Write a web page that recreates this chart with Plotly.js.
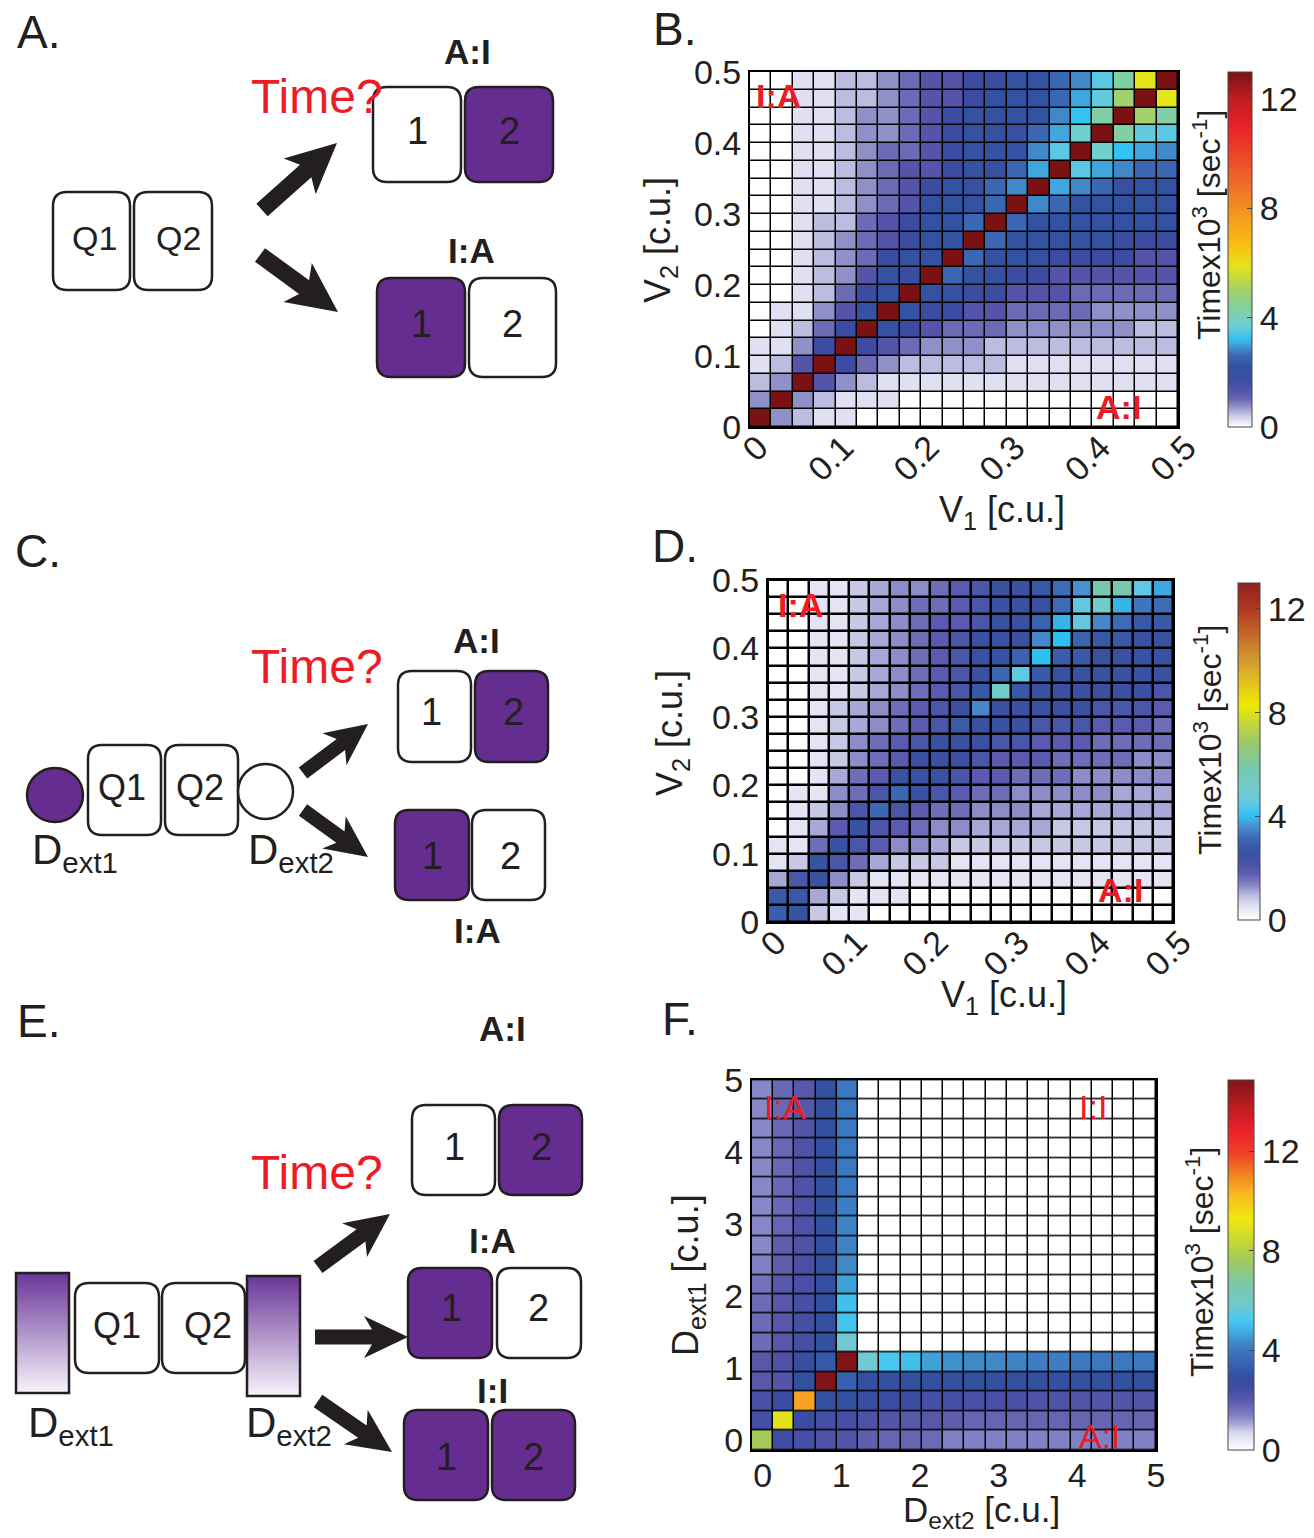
<!DOCTYPE html>
<html><head><meta charset="utf-8">
<script src="https://cdn.plot.ly/plotly-3.0.1.min.js"></script>
<style>body{margin:0;background:#fff}</style>
</head><body><div id="chart" style="width:1314px;height:1538px"></div>
<script>
// ---------------- DATA ----------------
// Panel B: time to reach final state, V1 (columns, 0..0.5) x V2 (rows, listed top row first)
const bTicks = [0, 0.1, 0.2, 0.3, 0.4, 0.5];
const bRowsTopDown = [
 [0,0,.25,.25,.5,.5,.75,1.0,1.3,1.3,1.7,1.7,2.2,2.2,2.6,2.85,3.5,4.3,5.9,13],
 [0,0,.25,.25,.5,.5,.75,1.0,1.3,1.3,1.7,2.2,2.2,2.2,2.6,3.05,3.6,5.0,13,5.9],
 [0,0,.25,.25,.5,.75,.75,1.0,1.3,1.7,2.2,2.2,2.2,2.2,2.85,3.25,4.3,13,5.0,4.3],
 [0,0,.25,.25,.5,.75,.75,1.0,1.3,1.7,2.2,2.2,2.0,2.6,3.05,3.8,13,4.3,3.6,3.5],
 [0,0,.25,.25,.5,.75,1.0,1.0,1.3,1.7,2.2,2.2,2.2,2.85,3.5,13,3.8,3.25,3.05,2.85],
 [0,0,.25,.25,.5,.75,1.0,1.3,1.3,1.7,2.2,2.0,2.6,3.05,13,3.5,3.05,2.85,2.6,2.6],
 [0,0,.25,.25,.5,.75,1.0,1.3,1.7,2.2,2.0,2.6,2.85,13,3.05,2.85,2.6,2.0,2.2,2.2],
 [0,0,.25,.25,.5,.75,1.0,1.3,2.2,2.2,2.2,2.6,13,2.85,2.6,2.2,2.2,2.2,2.2,2.2],
 [0,0,.25,.5,.5,1.0,1.3,1.7,2.2,2.2,2.6,13,2.6,2.2,2.2,2.2,2.2,2.2,2.2,2.2],
 [0,0,.25,.5,.75,1.0,1.3,1.7,2.2,2.2,13,2.6,2.2,2.2,2.2,2.2,2.2,1.7,1.7,1.7],
 [0,0,.25,.5,.75,1.0,1.7,2.2,2.2,13,2.6,2.2,2.2,2.2,1.7,1.7,1.7,1.7,1.3,1.3],
 [0,0,.25,.5,.75,1.3,2.2,1.7,13,2.6,2.2,2.2,1.7,1.7,1.3,1.3,1.3,1.3,1.3,1.3],
 [0,0,.25,.5,1.0,1.7,2.2,13,2.2,2.2,1.7,1.7,1.3,1.3,1.3,1.0,1.0,1.0,1.0,1.0],
 [0,.25,.25,.75,1.3,2.2,13,2.2,1.7,1.7,1.3,1.3,1.0,1.0,1.0,1.0,.75,.75,.75,.75],
 [0,.25,.5,1.0,1.7,13,2.2,1.7,1.3,1.0,1.0,1.0,.75,.75,.75,.75,.75,.75,.5,.5],
 [.25,.25,.75,1.7,13,1.7,1.3,1.0,.75,.75,.75,.5,.5,.5,.5,.5,.5,.5,.5,.5],
 [.25,.5,1.3,13,1.7,1.0,.75,.5,.5,.5,.5,.5,.25,.25,.25,.25,.25,.25,.25,.25],
 [.5,.75,13,1.3,.75,.5,.25,.25,.25,.25,.25,.25,.25,.25,.25,.25,.25,.25,.25,.25],
 [.75,13,.75,.5,.25,.25,.25,0,0,0,0,0,0,0,0,0,0,0,0,0],
 [13,.75,.5,.25,.25,0,0,0,0,0,0,0,0,0,0,0,0,0,0,0]
];
// Panel D: same axes, with external domains
const dRowsTopDown = [
 [0,0,.5,.5,.85,1.1,1.3,1.3,1.6,1.85,2.1,2.5,2.5,2.8,3.2,3.6,5.8,5.8,4.5,3.8],
 [0,0,.5,.5,.85,1.1,1.3,1.6,1.6,1.85,2.1,2.5,2.5,2.5,3.2,4.6,5.0,3.9,3.3,3.2],
 [0,0,.5,.5,.85,1.1,1.3,1.6,1.85,1.85,2.1,2.5,2.5,3.0,3.9,4.6,3.5,3.2,2.8,2.8],
 [0,0,.5,.5,.85,1.1,1.3,1.6,1.85,2.1,2.5,2.5,2.5,3.5,4.0,3.0,2.8,2.8,2.5,2.5],
 [0,0,.5,.5,.85,1.1,1.3,1.6,1.85,2.1,2.5,2.5,3.0,4.0,2.9,2.8,2.5,2.5,2.5,2.5],
 [0,0,.5,.5,.85,1.1,1.3,1.6,1.85,2.1,2.5,3.1,4.5,2.8,2.5,2.5,2.5,2.5,2.5,2.5],
 [0,0,.5,.5,.85,1.1,1.3,1.6,1.85,2.1,2.8,5.0,2.8,2.5,2.5,2.5,2.5,2.5,2.5,2.1],
 [0,0,.5,.85,1.1,1.3,1.6,1.85,2.1,2.5,3.5,2.5,2.5,2.5,2.5,2.5,2.1,2.1,2.1,1.85],
 [0,0,.5,.85,1.1,1.3,1.6,1.85,2.1,2.9,2.5,2.5,2.5,2.1,2.1,2.1,1.85,1.85,1.85,1.6],
 [0,0,.5,.85,1.3,1.6,1.85,2.1,2.5,2.5,2.5,2.1,2.1,1.85,1.85,1.85,1.6,1.6,1.6,1.6],
 [0,0,.5,.85,1.3,1.6,1.85,2.5,2.5,2.5,2.1,1.85,1.85,1.85,1.6,1.6,1.6,1.6,1.3,1.3],
 [0,0,.5,1.1,1.6,1.85,2.5,2.5,2.5,2.1,1.85,1.85,1.6,1.6,1.6,1.3,1.3,1.3,1.3,1.3],
 [0,.5,.5,1.3,1.6,2.1,3.1,2.5,2.1,1.85,1.6,1.6,1.3,1.3,1.3,1.3,1.3,1.1,1.1,1.1],
 [0,.5,.85,1.3,2.1,3.1,2.1,1.85,1.6,1.6,1.3,1.3,1.3,1.1,1.1,1.1,1.1,1.1,1.1,1.1],
 [0,.5,1.1,1.85,2.6,2.1,1.85,1.6,1.3,1.3,1.1,1.1,1.1,1.1,.85,.85,.85,.85,.85,.85],
 [.5,.5,1.6,2.6,2.1,1.85,1.3,1.3,1.1,.85,.85,.85,.85,.85,.85,.85,.85,.85,.85,.85],
 [.5,.85,2.6,2.1,1.6,1.1,.85,.85,.85,.5,.5,.5,.5,.5,.5,.5,.5,.5,.5,.5],
 [1.1,2.1,2.6,1.3,.85,.5,.5,.5,.5,.5,.5,.5,.5,.5,.5,.5,.5,.5,.5,.5],
 [2.8,2.8,1.1,.85,.5,.5,.5,0,0,0,0,0,0,0,0,0,0,0,0,0],
 [2.9,2.6,.85,.5,.5,0,0,0,0,0,0,0,0,0,0,0,0,0,0,0]
];
// Panel F: Dext2 (columns) x Dext1 (rows, listed top row first)
const fTicks = [0, 1, 2, 3, 4, 5];
const fRowsTopDown = [
 [1.3,1.75,2.0,3.0,4.0,0,0,0,0,0,0,0,0,0,0,0,0,0,0],
 [1.3,1.75,2.0,3.0,4.0,0,0,0,0,0,0,0,0,0,0,0,0,0,0],
 [1.3,1.75,2.1,3.0,4.0,0,0,0,0,0,0,0,0,0,0,0,0,0,0],
 [1.3,1.75,2.2,3.0,4.0,0,0,0,0,0,0,0,0,0,0,0,0,0,0],
 [1.3,1.75,2.2,3.0,4.0,0,0,0,0,0,0,0,0,0,0,0,0,0,0],
 [1.3,1.75,2.2,3.0,4.0,0,0,0,0,0,0,0,0,0,0,0,0,0,0],
 [1.3,1.75,2.2,3.0,4.1,0,0,0,0,0,0,0,0,0,0,0,0,0,0],
 [1.3,1.8,2.2,3.0,4.2,0,0,0,0,0,0,0,0,0,0,0,0,0,0],
 [1.3,1.9,2.2,3.0,4.2,0,0,0,0,0,0,0,0,0,0,0,0,0,0],
 [1.4,1.9,2.3,3.0,4.3,0,0,0,0,0,0,0,0,0,0,0,0,0,0],
 [1.6,2.0,2.3,3.0,4.6,0,0,0,0,0,0,0,0,0,0,0,0,0,0],
 [1.7,2.0,2.4,3.0,5.0,0,0,0,0,0,0,0,0,0,0,0,0,0,0],
 [1.7,2.0,2.4,3.0,5.1,0,0,0,0,0,0,0,0,0,0,0,0,0,0],
 [1.7,2.0,2.4,3.0,5.8,0,0,0,0,0,0,0,0,0,0,0,0,0,0],
 [2.0,2.2,2.7,3.2,14.85,5.8,5.2,5.0,4.6,4.4,4.3,4.3,4.2,4.1,4.1,4.0,4.0,4.0,4.0],
 [2.0,2.1,3.0,14.85,3.4,3.0,3.0,3.0,3.0,3.0,3.0,3.0,3.0,3.0,3.0,3.0,3.0,3.0,3.0],
 [2.3,2.6,10.6,3.0,3.0,2.8,2.7,2.6,2.4,2.4,2.3,2.3,2.3,2.2,2.2,2.1,2.1,2.1,2.1],
 [2.4,9.0,2.7,2.4,2.4,2.2,2.1,2.0,2.0,1.9,1.8,1.8,1.8,1.8,1.8,1.8,1.8,1.8,1.8],
 [7.7,2.5,2.4,2.2,2.1,1.9,1.8,1.8,1.7,1.4,1.4,1.4,1.4,1.4,1.4,1.4,1.4,1.4,1.4]
];
const fStep = 0.27;           // spacing of the Dext grid in panel F
const cbTicks = [0, 4, 8, 12];

// ---------------- STYLE ----------------
const FW = 1314, FH = 1538;
const X = p => p / FW, Y = p => 1 - p / FH;
const FONT = 'Liberation Sans, Arial, sans-serif';
const INK = '#231f20', PURPLE = '#662d91', RED = '#ed1c24';

function scale(stops, max) { return stops.map(s => [s[0] / max, s[1]]); }
const csB = scale([[0,'#ffffff'],[0.25,'#e0e0f2'],[0.5,'#bcbce0'],[0.75,'#9090c8'],[1.0,'#6c6cb6'],[1.3,'#5454aa'],
 [1.7,'#3c4ca2'],[2.2,'#3452a4'],[2.6,'#3a66b4'],[2.85,'#4088c8'],[3.05,'#40a6de'],[3.25,'#34c2f0'],[3.5,'#5ac8e4'],
 [3.8,'#70d0cc'],[4.3,'#80d0a4'],[5.0,'#a2d06c'],[5.4,'#c4d840'],[5.9,'#e4e41c'],[6.6,'#f8c010'],[7.7,'#f59a20'],
 [8.8,'#f07028'],[9.9,'#ec4828'],[11,'#e82228'],[12,'#c01e20'],[13,'#7a1214']], 13);
const csD = scale([[0,'#ffffff'],[0.5,'#e4e4f4'],[0.85,'#c8c8e4'],[1.1,'#a8a8d8'],[1.3,'#8c8cc8'],[1.6,'#6e6eb8'],
 [1.85,'#5a5ab0'],[2.1,'#4a56a8'],[2.5,'#3a50a0'],[2.8,'#3858a8'],[3.2,'#3c6cb8'],[3.6,'#4890d0'],[4.0,'#30c0f0'],
 [4.5,'#60c8e4'],[5.0,'#70cccc'],[5.8,'#78c8b0'],[6.8,'#98c870'],[7.5,'#c0d440'],[8.3,'#f0e800'],[9.2,'#e0c020'],
 [10.2,'#d09030'],[11.2,'#c06028'],[12,'#b03820'],[13,'#902020']], 13);
const csF = scale([[0,'#ffffff'],[0.3,'#f0f0f8'],[0.7,'#d8d8ec'],[1.07,'#a4a4d2'],[1.3,'#8888c8'],[1.5,'#7878c0'],
 [1.75,'#6868b4'],[2.0,'#5858a8'],[2.3,'#4a50a8'],[2.6,'#3c4ca2'],[3.0,'#3450a0'],[3.4,'#3860b0'],[4.0,'#3c78c0'],
 [4.3,'#4088c8'],[4.6,'#40a0d8'],[5.0,'#40c0ea'],[5.2,'#48c8f0'],[5.8,'#70c8d0'],[6.8,'#80c8a0'],[7.6,'#a0c860'],
 [8.4,'#c8d830'],[9.3,'#f0e810'],[10.3,'#f8b820'],[11.1,'#f08020'],[11.9,'#f04028'],[12.9,'#e82028'],
 [14.0,'#b01c20'],[14.85,'#801418']], 14.85);

function cbar(left, top, bottom, thick) {
  return {x: X(left), xanchor: 'left', y: Y(bottom), yanchor: 'bottom', len: bottom - top, lenmode: 'pixels',
    thickness: thick, thicknessmode: 'pixels', xpad: 0, ypad: 0, outlinewidth: 1, outlinecolor: '#444',
    tickvals: cbTicks, ticks: 'inside', ticklen: 5, tickcolor: '#444', tickfont: {family: FONT, size: 34, color: INK}};
}
function axis(dom, range, ticks, angle, anchor, extra) {
  return Object.assign({domain: dom, range: range, tickvals: ticks, tickangle: angle, anchor: anchor, showgrid: false, zeroline: false,
    showline: true, mirror: true, linecolor: '#000', linewidth: 2, ticks: '', fixedrange: true, automargin: false,
    tickfont: {family: FONT, size: 34, color: INK}}, extra || {});
}
const topDown = rows => rows.slice().reverse();

const traces = [
  {type: 'heatmap', z: topDown(bRowsTopDown), x0: 0.0125, dx: 0.025, y0: 0.0125, dy: 0.025, xaxis: 'x', yaxis: 'y',
   colorscale: csB, zmin: 0, zmax: 13, xgap: 1.5, ygap: 1.5, hoverinfo: 'skip', colorbar: cbar(1228, 72, 427, 24)},
  {type: 'heatmap', z: topDown(dRowsTopDown), x0: 0.0125, dx: 0.025, y0: 0.0125, dy: 0.025, xaxis: 'x2', yaxis: 'y2',
   colorscale: csD, zmin: 0, zmax: 13, xgap: 2.5, ygap: 2.5, hoverinfo: 'skip', colorbar: cbar(1238, 583, 920, 22)},
  {type: 'heatmap', z: topDown(fRowsTopDown), x0: 0, dx: fStep, y0: 0, dy: fStep, xaxis: 'x3', yaxis: 'y3',
   colorscale: csF, zmin: 0, zmax: 14.85, xgap: 1.5, ygap: 1.5, hoverinfo: 'skip', colorbar: cbar(1228, 1080, 1450, 26)}
];

// ---------------- DIAGRAMS ----------------
const shapes = [], ann = [];
const P = (x, y) => X(x) + ',' + Y(y);
function rbox(x0, y0, x1, y1, fill) {
  const r = 14;
  const d = 'M' + P(x0 + r, y0) + ' L' + P(x1 - r, y0) + ' Q' + P(x1, y0) + ' ' + P(x1, y0 + r) +
    ' L' + P(x1, y1 - r) + ' Q' + P(x1, y1) + ' ' + P(x1 - r, y1) + ' L' + P(x0 + r, y1) +
    ' Q' + P(x0, y1) + ' ' + P(x0, y1 - r) + ' L' + P(x0, y0 + r) + ' Q' + P(x0, y0) + ' ' + P(x0 + r, y0) + ' Z';
  shapes.push({type: 'path', xref: 'paper', yref: 'paper', path: d, fillcolor: fill, line: {color: INK, width: 2.5}, layer: 'above'});
}
function circ(x0, y0, x1, y1, fill) {
  shapes.push({type: 'circle', xref: 'paper', yref: 'paper', x0: X(x0), x1: X(x1), y0: Y(y1), y1: Y(y0),
    fillcolor: fill, line: {color: INK, width: 2.5}, layer: 'above'});
}
function arrow(tx, ty, hx, hy, sw, hl, hw) {
  const L = Math.hypot(hx - tx, hy - ty), ux = (hx - tx) / L, uy = (hy - ty) / L, nx = -uy, ny = ux;
  const bx = hx - ux * hl, by = hy - uy * hl, notch = 8;
  const pts = [[tx + nx * sw / 2, ty + ny * sw / 2], [bx + nx * sw / 2, by + ny * sw / 2],
    [bx - ux * notch + nx * hw / 2, by - uy * notch + ny * hw / 2], [hx, hy],
    [bx - ux * notch - nx * hw / 2, by - uy * notch - ny * hw / 2], [bx - nx * sw / 2, by - ny * sw / 2],
    [tx - nx * sw / 2, ty - ny * sw / 2]];
  shapes.push({type: 'path', xref: 'paper', yref: 'paper', path: 'M' + pts.map(p => P(p[0], p[1])).join(' L') + ' Z',
    fillcolor: INK, line: {width: 0}, layer: 'above'});
}
function mix(a, b, t) {
  const pa = [1,3,5].map(i => parseInt(a.substr(i, 2), 16)), pb = [1,3,5].map(i => parseInt(b.substr(i, 2), 16));
  return 'rgb(' + pa.map((v, i) => Math.round(v + (pb[i] - v) * t)).join(',') + ')';
}
function gradRect(x0, y0, x1, y1) {
  const n = 40, h = (y1 - y0) / n;
  for (let i = 0; i < n; i++) {
    shapes.push({type: 'rect', xref: 'paper', yref: 'paper', x0: X(x0), x1: X(x1), y0: Y(y0 + h * (i + 1) + 0.6), y1: Y(y0 + h * i),
      fillcolor: mix('#6b3898', '#f6f2fa', i / (n - 1)), line: {width: 0}, layer: 'above'});
  }
  shapes.push({type: 'rect', xref: 'paper', yref: 'paper', x0: X(x0), x1: X(x1), y0: Y(y1), y1: Y(y0),
    fillcolor: 'rgba(0,0,0,0)', line: {color: INK, width: 2.5}, layer: 'above'});
}
function txt(px, py, text, size, extra) {
  ann.push(Object.assign({xref: 'paper', yref: 'paper', x: X(px), y: Y(py), text: text, showarrow: false,
    xanchor: 'center', yanchor: 'middle', font: {family: FONT, size: size, color: INK}}, extra || {}));
}
const redFont = s => ({font: {family: FONT, size: s, color: RED}});

// Panel A
rbox(53, 192, 130, 290, '#fff'); rbox(134, 192, 212, 290, '#fff');
txt(94, 238, 'Q1', 34); txt(178, 238, 'Q2', 34);
arrow(262, 210, 337, 143, 17, 42, 48); arrow(260, 255, 338, 312, 17, 42, 48);
rbox(373, 87, 461, 182, '#fff'); rbox(465, 87, 553, 182, PURPLE);
txt(417, 131, '1', 38); txt(509, 131, '2', 38);
rbox(377, 278, 465, 377, PURPLE); rbox(469, 278, 556, 377, '#fff');
txt(421, 324, '1', 38); txt(512, 324, '2', 38);
txt(467, 52, '<b>A:I</b>', 35); txt(471, 250, '<b>I:A</b>', 35);
txt(317, 97, 'Time?', 48, redFont(48));

// Panel C
circ(27, 768, 83, 822, PURPLE);
rbox(88, 745, 161, 835, '#fff'); rbox(165, 745, 238, 835, '#fff');
circ(238, 764, 293, 819, '#fff');
txt(122, 788, 'Q1', 36); txt(200, 788, 'Q2', 36);
txt(30, 852, 'D<sub>ext1</sub>', 42, {xanchor: 'left'});
txt(246, 852, 'D<sub>ext2</sub>', 42, {xanchor: 'left'});
arrow(303, 773, 368, 724, 14, 34, 40); arrow(303, 810, 368, 857, 14, 34, 40);
rbox(398, 671, 471, 762, '#fff'); rbox(475, 671, 548, 762, PURPLE);
txt(431, 712, '1', 38); txt(513, 712, '2', 38);
rbox(395, 810, 469, 900, PURPLE); rbox(472, 810, 545, 900, '#fff');
txt(432, 856, '1', 38); txt(510, 856, '2', 38);
txt(476, 640, '<b>A:I</b>', 35); txt(477, 930, '<b>I:A</b>', 35);
txt(317, 666, 'Time?', 48, redFont(48));

// Panel E
gradRect(16, 1273, 69, 1393); gradRect(247, 1276, 300, 1396);
rbox(75, 1283, 159, 1373, '#fff'); rbox(162, 1283, 245, 1373, '#fff');
txt(117, 1325, 'Q1', 36); txt(208, 1325, 'Q2', 36);
txt(26, 1425, 'D<sub>ext1</sub>', 42, {xanchor: 'left'});
txt(244, 1425, 'D<sub>ext2</sub>', 42, {xanchor: 'left'});
arrow(318, 1267, 390, 1214, 15, 36, 42); arrow(315, 1337, 408, 1337, 15, 36, 42); arrow(318, 1401, 392, 1452, 15, 36, 42);
rbox(412, 1105, 495, 1195, '#fff'); rbox(499, 1105, 582, 1195, PURPLE);
txt(454, 1147, '1', 38); txt(541, 1147, '2', 38);
rbox(408, 1268, 492, 1358, PURPLE); rbox(497, 1268, 581, 1358, '#fff');
txt(451, 1308, '1', 38); txt(538, 1308, '2', 38);
rbox(404, 1410, 488, 1500, PURPLE); rbox(492, 1410, 575, 1500, PURPLE);
txt(446, 1457, '1', 38); txt(533, 1457, '2', 38);
txt(502, 1028, '<b>A:I</b>', 35); txt(492, 1240, '<b>I:A</b>', 35); txt(492, 1390, '<b>I:I</b>', 35);
txt(317, 1172, 'Time?', 48, redFont(48));

// Panel letters
txt(38, 32, 'A.', 46); txt(674, 29, 'B.', 46);
txt(38, 551, 'C.', 46); txt(675, 546, 'D.', 46);
txt(38, 1021, 'E.', 46); txt(680, 1019, 'F.', 46);

// Heatmap labels
txt(778, 96, '<b>I:A</b>', 34, redFont(34)); txt(1118, 407, '<b>A:I</b>', 34, redFont(34));
txt(800, 605, '<b>I:A</b>', 34, redFont(34)); txt(1120, 890, '<b>A:I</b>', 34, redFont(34));
txt(785, 1107, 'I:A', 34, redFont(34)); txt(1093, 1107, 'I:I', 34, redFont(34)); txt(1100, 1436, 'A:I', 34, redFont(34));

// Axis titles
txt(1002, 512, 'V<sub>1</sub> [c.u.]', 36); txt(660, 240, 'V<sub>2</sub> [c.u.]', 36, {textangle: -90});
txt(1004, 997, 'V<sub>1</sub> [c.u.]', 36); txt(672, 733, 'V<sub>2</sub> [c.u.]', 36, {textangle: -90});
txt(981, 1512, 'D<sub>ext2</sub> [c.u.]', 35); txt(688, 1275, 'D<sub>ext1</sub> [c.u.]', 36, {textangle: -90});
const cbTitle = 'Timex10<sup>3</sup> [sec<sup>-1</sup>]';
txt(1207, 225, cbTitle, 32, {textangle: -90}); txt(1208, 740, cbTitle, 32, {textangle: -90}); txt(1200, 1262, cbTitle, 32, {textangle: -90});

const rotX = {ticklabelstandoff: -15, ticklabelshift: 8};
const fRange = [-fStep / 2, 5.0];
const layout = {
  width: FW, height: FH, margin: {l: 0, r: 0, t: 0, b: 0}, paper_bgcolor: '#fff', plot_bgcolor: '#000',
  showlegend: false, font: {family: FONT, color: INK},
  xaxis: axis([X(750), X(1178)], [0, 0.5], bTicks, -45, 'y', rotX),
  yaxis: axis([Y(427), Y(72)], [0, 0.5], bTicks, 0, 'x'),
  xaxis2: axis([X(768), X(1173)], [0, 0.5], bTicks, -45, 'y2', rotX),
  yaxis2: axis([Y(922), Y(580)], [0, 0.5], bTicks, 0, 'x2'),
  xaxis3: axis([X(752), X(1156)], fRange, fTicks, 0, 'y3', {ticklabelstandoff: -6}),
  yaxis3: axis([Y(1450), Y(1080)], fRange, fTicks, 0, 'x3'),
  shapes: shapes, annotations: ann
};
Plotly.newPlot('chart', traces, layout, {staticPlot: true, displayModeBar: false});
</script></body></html>
